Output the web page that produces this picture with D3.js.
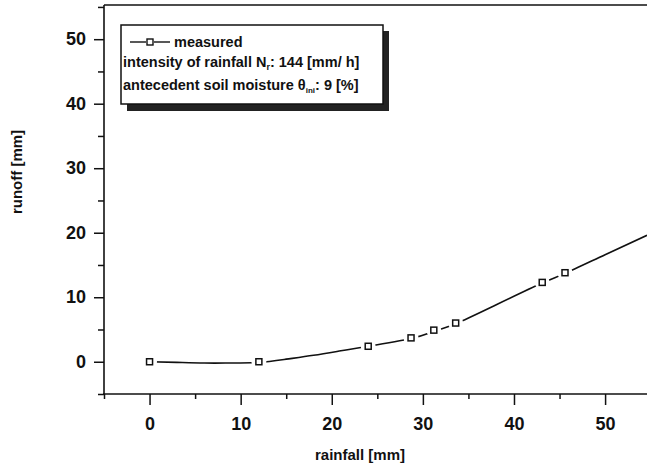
<!DOCTYPE html>
<html lang="en">
<head>
    <meta charset="UTF-8">
    <title>Runoff vs rainfall</title>
    <script src="https://d3js.org/d3.v7.min.js"></script>
    <style>
        body { margin: 0; background: #fff; }
        svg { font-family: "Liberation Sans", Arial, sans-serif; }
        .axis line { stroke: #111; stroke-width: 1.5px; }
        .axis text { font-size: 18px; font-weight: bold; fill: #111; }
        .title { font-size: 15px; font-weight: bold; fill: #111; }
        .legend text { font-size: 14.5px; font-weight: bold; fill: #111; }
    </style>
</head>
<body>
    <div id="chart"></div>
    <script>
        // measured points
        const rainfall = [0, 12, 24, 28.7, 31.2, 33.6, 43.1, 45.6];
        const runoff = [0, 0, 2.4, 3.7, 4.9, 6.0, 12.3, 13.8];

        // fitted curve
        const curveX = [0, 3, 6, 9, 12, 15, 18, 21, 24, 28.7, 31.2, 33.6, 38, 43.1, 45.6, 50, 54.6];
        const curveY = [0, -0.1, -0.2, -0.2, -0.1, 0.4, 1.0, 1.7, 2.4, 3.6, 4.7, 5.9, 8.8, 12.2, 13.7, 16.6, 19.6];

        const xTicks = [0, 10, 20, 30, 40, 50];
        const yTicks = [0, 10, 20, 30, 40, 50];

        const W = 647, H = 463;
        const plotLeft = 104, plotRight = 647, plotTop = 5, plotBottom = 394;

        const svg = d3.select("#chart").append("svg")
            .attr("width", W)
            .attr("height", H);

        const x = d3.scaleLinear().domain([-5, 54.6]).range([plotLeft, plotRight]);
        const y = d3.scaleLinear().domain([-5, 55.3]).range([plotBottom, plotTop]);

        // minor ticks every 5
        const xMinor = d3.range(-5, 55, 5).filter(v => xTicks.indexOf(v) < 0);
        const yMinor = d3.range(-5, 56, 5).filter(v => yTicks.indexOf(v) < 0);

        svg.append("g")
            .attr("class", "axis")
            .attr("transform", `translate(0,${plotBottom})`)
            .call(d3.axisBottom(x).tickValues(xMinor).tickSize(5).tickFormat(""))
            .call(g => g.select(".domain").remove());

        svg.append("g")
            .attr("class", "axis")
            .attr("transform", `translate(0,${plotBottom})`)
            .call(d3.axisBottom(x).tickValues(xTicks).tickSize(11).tickPadding(12))
            .call(g => g.select(".domain").remove());

        svg.append("g")
            .attr("class", "axis")
            .attr("transform", `translate(${plotLeft},0)`)
            .call(d3.axisLeft(y).tickValues(yMinor).tickSize(6).tickFormat(""))
            .call(g => g.select(".domain").remove());

        svg.append("g")
            .attr("class", "axis")
            .attr("transform", `translate(${plotLeft},0)`)
            .call(d3.axisLeft(y).tickValues(yTicks).tickSize(10).tickPadding(8))
            .call(g => g.select(".domain").remove());

        // frame: left, bottom, top
        const frame = [
            [plotLeft, plotTop, plotLeft, plotBottom + 1],
            [plotLeft - 1, plotBottom, plotRight, plotBottom],
            [plotLeft, plotTop, plotRight, plotTop]
        ];
        svg.selectAll(".frame")
            .data(frame)
            .join("line")
            .attr("class", "frame")
            .attr("x1", d => d[0]).attr("y1", d => d[1])
            .attr("x2", d => d[2]).attr("y2", d => d[3])
            .attr("stroke", "#111").attr("stroke-width", 1.6);

        // axis titles
        svg.append("text")
            .attr("class", "title")
            .attr("x", 360).attr("y", 460)
            .attr("text-anchor", "middle")
            .text("rainfall [mm]");

        svg.append("text")
            .attr("class", "title")
            .attr("transform", "translate(22,172) rotate(-90)")
            .attr("text-anchor", "middle")
            .text("runoff [mm]");

        // curve
        const curveData = curveX.map((v, i) => ({ x: v, y: curveY[i] }));
        const line = d3.line()
            .x(d => x(d.x))
            .y(d => y(d.y))
            .curve(d3.curveNatural);

        svg.append("clipPath").attr("id", "plot-clip")
            .append("rect")
            .attr("x", plotLeft).attr("y", plotTop)
            .attr("width", plotRight - plotLeft).attr("height", plotBottom - plotTop);

        svg.append("path")
            .datum(curveData)
            .attr("clip-path", "url(#plot-clip)")
            .attr("fill", "none")
            .attr("stroke", "#111")
            .attr("stroke-width", 1.6)
            .attr("d", line);

        const pts = rainfall.map((v, i) => ({ x: v, y: runoff[i] }));

        // white gaps around markers
        svg.selectAll(".gap")
            .data(pts)
            .join("circle")
            .attr("class", "gap")
            .attr("cx", d => x(d.x))
            .attr("cy", d => y(d.y))
            .attr("r", 7.5)
            .attr("fill", "#fff");

        svg.selectAll(".pt")
            .data(pts)
            .join("rect")
            .attr("class", "pt")
            .attr("x", d => x(d.x) - 3)
            .attr("y", d => y(d.y) - 3)
            .attr("width", 6).attr("height", 6)
            .attr("fill", "#fff")
            .attr("stroke", "#111")
            .attr("stroke-width", 1.5);

        // legend
        const lg = svg.append("g").attr("class", "legend");
        lg.append("rect")
            .attr("x", 127).attr("y", 31)
            .attr("width", 262).attr("height", 80)
            .attr("fill", "#222");
        lg.append("rect")
            .attr("x", 121).attr("y", 25)
            .attr("width", 262).attr("height", 79)
            .attr("fill", "#fff")
            .attr("stroke", "#111")
            .attr("stroke-width", 1.5);

        lg.append("line")
            .attr("x1", 130).attr("x2", 146).attr("y1", 42).attr("y2", 42)
            .attr("stroke", "#111").attr("stroke-width", 1.4);
        lg.append("line")
            .attr("x1", 154).attr("x2", 170).attr("y1", 42).attr("y2", 42)
            .attr("stroke", "#111").attr("stroke-width", 1.4);
        lg.append("rect")
            .attr("x", 147).attr("y", 39).attr("width", 6).attr("height", 6)
            .attr("fill", "#fff").attr("stroke", "#111").attr("stroke-width", 1.4);
        lg.append("text").attr("x", 174).attr("y", 47).text("measured");

        const t2 = lg.append("text").attr("x", 123).attr("y", 67);
        t2.append("tspan").text("intensity of rainfall N");
        t2.append("tspan").attr("font-size", "9px").attr("dy", 3).text("r");
        t2.append("tspan").attr("dy", -3).text(": 144 [mm/ h]");

        const t3 = lg.append("text").attr("x", 123).attr("y", 90);
        t3.append("tspan").text("antecedent soil moisture \u03b8");
        t3.append("tspan").attr("font-size", "8px").attr("dy", 3).text("ini");
        t3.append("tspan").attr("dy", -3).text(": 9 [%]");
    </script>
</body>
</html>
